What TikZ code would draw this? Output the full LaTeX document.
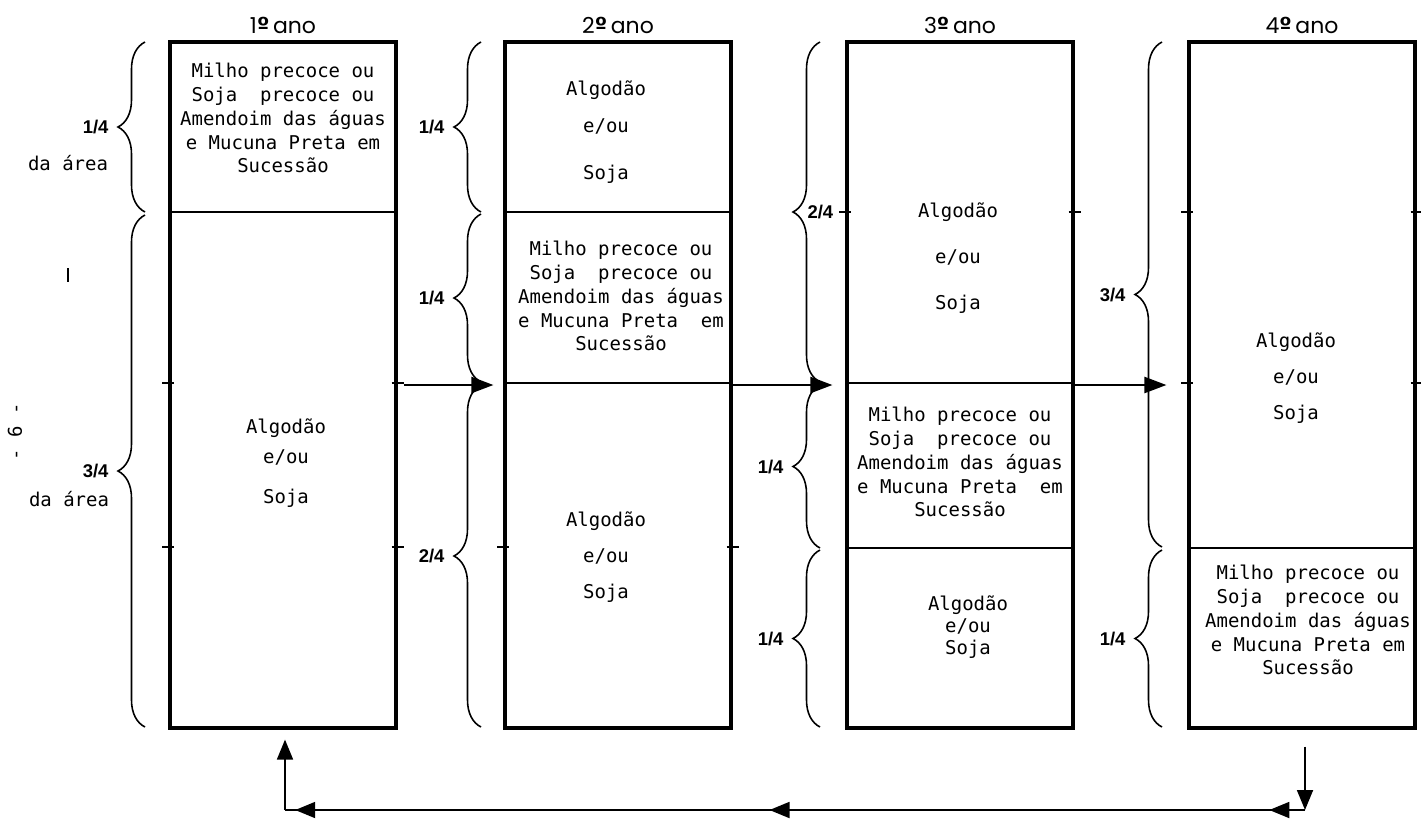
\documentclass[tikz,border=0pt]{standalone}
\usepackage{fontspec}
\setmainfont{DejaVu Sans}
\newfontfamily\cropfont{DejaVu Sans Mono}
\newfontfamily\headfont{Poppins}
\newfontfamily\ordfont{DejaVu Sans}
\newfontfamily\fracfont{Liberation Sans}
\usetikzlibrary{arrows.meta,positioning,calc,decorations.pathreplacing,decorations.markings}

\newcommand\yr[1]{#1{\ordfont\bfseries º}\,ano}

\tikzset{
  box/.style={draw, line width=1.8pt, inner sep=0pt, minimum width=45.2mm, minimum height=137.2mm},
  part/.style={line width=1.2pt},
  tickmark/.style={line width=0.8pt},
  brc/.style={decorate, decoration={brace, amplitude=5.4mm}, line width=0.9pt},
  frac/.style={font=\fracfont\bfseries\fontsize{10.5}{12}\selectfont, inner sep=1pt},
  crop/.style={font=\cropfont\fontsize{10.8}{13.6}\selectfont, align=center, inner sep=0pt},
  year/.style={font=\headfont\fontsize{12.5}{14}\selectfont, inner sep=1pt},
  flow/.style={line width=1.3pt, -{Triangle[length=4.4mm, width=3.2mm]}},
  back/.style={line width=1pt},
  backtip/.style={-{Triangle[length=4mm, width=3.2mm]}}
}

\begin{document}
\begin{tikzpicture}[x=0.2mm, y=-0.2mm]
  \useasboundingbox (0,0) rectangle (1421,819);

  % the four years
  \node[box] (b1) at (283,385) {};
  \node[box] (b2) at (618,385) {};
  \node[box] (b3) at (960,385) {};
  \node[box] (b4) at (1302,385) {};
  \node[year, above=0.9mm of b1] (h1) {\yr{1}};
  \node[year, above=0.9mm of b2] (h2) {\yr{2}};
  \node[year, above=0.9mm of b3] (h3) {\yr{3}};
  \node[year, above=0.9mm of b4] (h4) {\yr{4}};

  % divisions and edge marks
  \foreach \bx/\y in {b1/212,b2/212,b2/383,b3/383,b3/548,b4/548}
    \draw[part] (\bx.west |- 0,\y) -- (\bx.east |- 0,\y);
  \foreach \bx/\y in {b1/383,b1/547,b2/547,b3/212,b4/212,b4/383}{
    \draw[tickmark] ($(\bx.west |- 0,\y)+(-6,0)$) -- ++(12,0);
    \draw[tickmark] ($(\bx.east |- 0,\y)+(-6,0)$) -- ++(12,0);
  }

  % crops
  \node[crop] (m1) at (283,118) {Milho precoce ou\\Soja\ \ precoce ou\\Amendoim das águas\\e Mucuna Preta em\\Sucessão};
  \node[crop] (a1) at (286,463) {Algodão\\[1.4mm]e/ou\\[3.2mm]Soja};
  \node[crop] (a2) at (606,132) {Algodão\\[2.8mm]e/ou\\[4.6mm]Soja};
  \node[crop] (m2) at (621,296) {Milho precoce ou\\Soja\ \ precoce ou\\Amendoim das águas\\e Mucuna Preta\ \ em\\Sucessão};
  \node[crop] (c2) at (606,557) {Algodão\\[2.4mm]e/ou\\[2.4mm]Soja};
  \node[crop] (a3) at (958,258) {Algodão\\[4.4mm]e/ou\\[4.4mm]Soja};
  \node[crop] (m3) at (960,462) {Milho precoce ou\\Soja\ \ precoce ou\\Amendoim das águas\\e Mucuna Preta\ \ em\\Sucessão};
  \node[crop] (c3) at (968,627) {Algodão\\[-0.4mm]e/ou\\[-0.4mm]Soja};
  \node[crop] (a4) at (1296,378) {Algodão\\[2.4mm]e/ou\\[2.4mm]Soja};
  \node[crop] (m4) at (1308,620) {Milho precoce ou\\Soja\ \ precoce ou\\Amendoim das águas\\e Mucuna Preta em\\Sucessão};

  % shares of the area
  \foreach \xe/\ya/\yb/\n in {145/42/212/1,145/215/727/3,481/42/212/1,481/214/382/1,481/385/727/2,
                              820/385/548/1,820/550/727/1,1162/42/547/3,1162/550/727/1}
    \draw[brc] (\xe,\yb) -- (\xe,\ya) node[frac, midway, left=6.8mm] (f\xe-\ya) {\n/4};
  \draw[brc] (820,382) -- (820,42) node[frac, midway, right=-3mm] (f820-42) {2/4};
  \node[crop] (d1) at (68,163) {da área};
  \node[crop] (d2) at (69,499) {da área};

  % page mark
  \node[crop, rotate=90] (pg) at (15,432) {- 6 -};
  \draw[line width=1.3pt] (68,268) -- (68,282);

  % rotation
  \draw[flow, shorten <=1.2mm, shorten >=2mm] (b1) -- (b2);
  \draw[flow, shorten >=2.6mm] (b2) -- (b3);
  \draw[flow, shorten >=4.2mm] (b3) -- (b4);

  \coordinate (c4) at (1305,810);
  \coordinate (c1) at (285,810);
  \draw[back, backtip, shorten <=3.4mm] (b4.south -| c4) -- (c4);
  \draw[back, postaction={decorate}, decoration={markings,
      mark=at position 0.035 with {\arrow{Triangle[length=4mm, width=3.2mm]}},
      mark=at position 0.525 with {\arrow{Triangle[length=4mm, width=3.2mm]}},
      mark=at position 0.99 with {\arrow{Triangle[length=4mm, width=3.2mm]}}}] (c4) -- (c1);
  \draw[back, backtip, shorten >=2mm] (c1) -- (b1.south -| c1);
\end{tikzpicture}
\end{document}
